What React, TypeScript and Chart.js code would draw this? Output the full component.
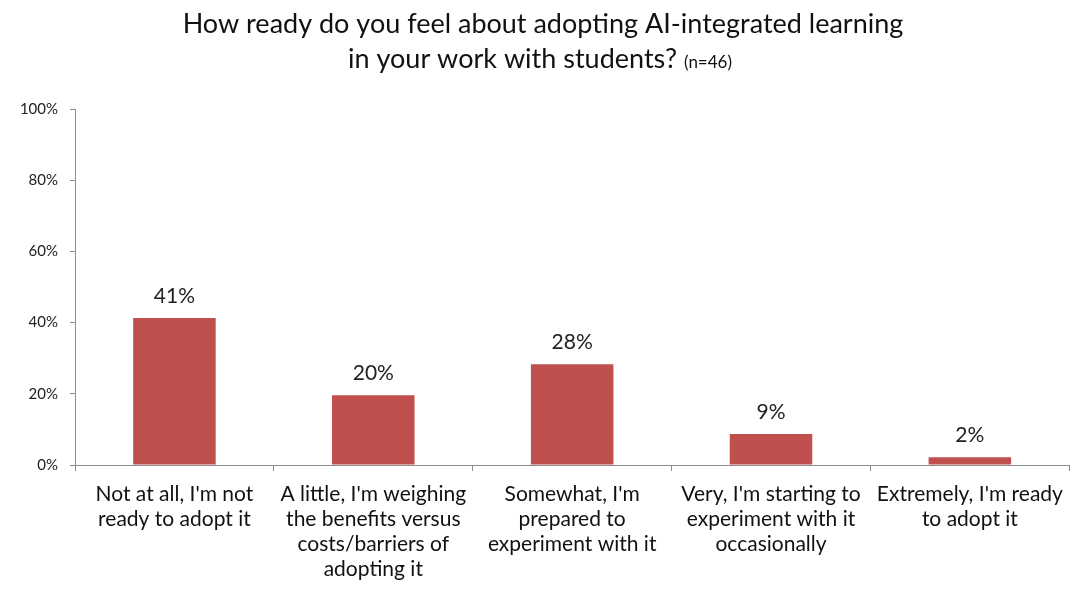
import React, { useEffect, useRef } from "react";
import { Chart, registerables } from "chart.js";

Chart.register(...registerables);

const TITLE_LINE_1 = "How ready do you feel about adopting AI-integrated learning";
const TITLE_LINE_2 = "in your work with students? ";
const TITLE_NOTE = "(n=46)";

const categories: string[][] = [
  ["Not at all, I'm not", "ready to adopt it"],
  ["A little, I'm weighing", "the benefits versus", "costs/barriers of", "adopting it"],
  ["Somewhat, I'm", "prepared to", "experiment with it"],
  ["Very, I'm starting to", "experiment with it", "occasionally"],
  ["Extremely, I'm ready", "to adopt it"],
];

const values: number[] = [41.3, 19.6, 28.3, 8.7, 2.2];

const yTicks: number[] = [0, 20, 40, 60, 80, 100];

const FONT = "Lato, 'Open Sans', sans-serif";
const BAR_COLOR = "#C0504D";
const AXIS_COLOR = "#8C8C8C";

const titlePlugin = {
  id: "customTitle",
  afterDraw(chart: any) {
    const ctx = chart.ctx;
    ctx.save();
    ctx.fillStyle = "#111";
    ctx.textBaseline = "alphabetic";
    ctx.font = `27px ${FONT}`;
    ctx.textAlign = "center";
    ctx.fillText(TITLE_LINE_1, 543, 33);
    const w1 = ctx.measureText(TITLE_LINE_2).width;
    ctx.font = `17px ${FONT}`;
    const w2 = ctx.measureText(TITLE_NOTE).width;
    const start = 540 - (w1 + w2) / 2;
    ctx.textAlign = "left";
    ctx.font = `27px ${FONT}`;
    ctx.fillText(TITLE_LINE_2, start, 68);
    ctx.font = `17px ${FONT}`;
    ctx.fillText(TITLE_NOTE, start + w1, 68);
    ctx.restore();
  },
};

const labelPlugin = {
  id: "barLabels",
  afterDatasetsDraw(chart: any) {
    const ctx = chart.ctx;
    const meta = chart.getDatasetMeta(0);
    ctx.save();
    ctx.fillStyle = "#222";
    ctx.font = `21px ${FONT}`;
    ctx.textAlign = "center";
    ctx.textBaseline = "alphabetic";
    meta.data.forEach((bar: any, i: number) => {
      ctx.fillText(`${Math.round(values[i])}%`, bar.x, bar.y - 15);
    });
    ctx.restore();
  },
};

export default function App() {
  const canvasRef = useRef<HTMLCanvasElement | null>(null);

  useEffect(() => {
    if (!canvasRef.current) return;
    const chart = new Chart(canvasRef.current, {
      type: "bar",
      data: {
        labels: categories,
        datasets: [
          {
            data: values,
            backgroundColor: BAR_COLOR,
            borderWidth: 0,
            categoryPercentage: 1,
            barPercentage: 0.415,
          },
        ],
      },
      options: {
        animation: false,
        responsive: true,
        maintainAspectRatio: false,
        layout: { padding: { top: 109, right: 1, left: 0, bottom: 0 } },
        plugins: {
          legend: { display: false },
          title: { display: false },
          tooltip: { enabled: false },
        },
        scales: {
          x: {
            grid: {
              display: true,
              drawOnChartArea: false,
              drawTicks: true,
              tickLength: 6,
              color: AXIS_COLOR,
              offset: true,
            },
            border: { display: true, color: AXIS_COLOR, width: 1 },
            ticks: {
              color: "#111",
              font: { family: FONT, size: 21, lineHeight: 1.19 },
              maxRotation: 0,
              minRotation: 0,
              autoSkip: false,
              padding: 11,
            },
            afterFit(scale: any) {
              scale.height = 128;
            },
          },
          y: {
            min: 0,
            max: 100,
            afterBuildTicks(scale: any) {
              scale.ticks = yTicks.map((v) => ({ value: v }));
            },
            grid: {
              display: true,
              drawOnChartArea: false,
              drawTicks: true,
              tickLength: 5,
              color: AXIS_COLOR,
            },
            border: { display: true, color: AXIS_COLOR, width: 1 },
            ticks: {
              color: "#222",
              font: { family: FONT, size: 15 },
              padding: 12,
              callback: (v: any) => `${v}%`,
            },
            afterFit(scale: any) {
              scale.width = 75;
            },
          },
        },
      },
      plugins: [titlePlugin, labelPlugin],
    });
    return () => chart.destroy();
  }, []);

  return (
    <div
      style={{
        position: "fixed",
        left: 0,
        top: 0,
        width: 1074,
        height: 593,
        background: "#fff",
      }}
    >
      <canvas ref={canvasRef} />
    </div>
  );
}
